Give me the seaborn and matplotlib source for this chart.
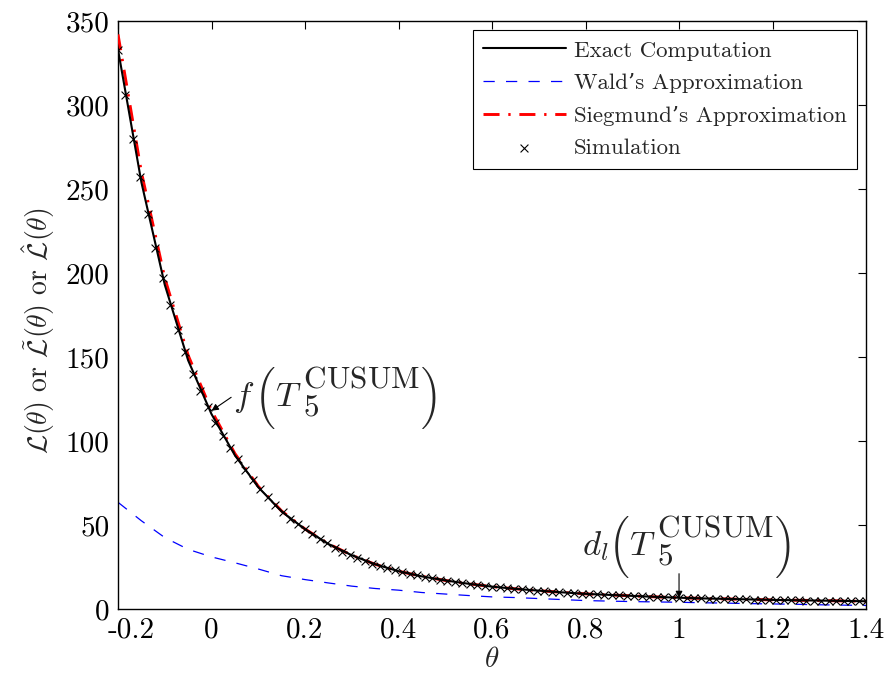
import numpy as np
import pandas as pd
import matplotlib
matplotlib.use("Agg")
import matplotlib.pyplot as plt
import matplotlib.transforms as mtransforms
import seaborn as sns

# ---------------- data ----------------
theta_curve = [-0.2, -0.15, -0.1, -0.05, 0.0, 0.05, 0.1, 0.15, 0.2, 0.25, 0.3,
               0.35, 0.4, 0.45, 0.5, 0.55, 0.6, 0.65, 0.7, 0.75, 0.8, 0.85,
               0.9, 0.95, 1.0, 1.05, 1.1, 1.15, 1.2, 1.25, 1.3, 1.35, 1.4]
exact = [333, 254, 193, 148, 116, 91.5, 72.5, 58, 47.5, 38.7, 32.0,
         26.6, 22.5, 19.4, 17.0, 15.0, 13.3, 12.0, 10.9, 9.9, 9.0, 8.4,
         7.8, 7.2, 6.7, 6.3, 6.0, 5.7, 5.4, 5.2, 5.0, 4.8, 4.6]
siegmund = [342, 260, 197, 151, 118, 92.5, 73, 58.3, 47.6, 38.8, 32.0,
            26.6, 22.5, 19.4, 17.0, 15.0, 13.3, 12.0, 10.9, 9.9, 9.0, 8.4,
            7.8, 7.2, 6.7, 6.3, 6.0, 5.7, 5.4, 5.2, 5.0, 4.8, 4.6]
wald = [63.5, 52.5, 42.5, 35.5, 31.0, 27.5, 23.8, 19.8, 17.5, 15.5, 13.6,
        12.2, 11.2, 9.8, 8.9, 8.0, 7.2, 6.8, 6.2, 5.6, 5.0, 4.7,
        4.4, 4.2, 4.0, 3.7, 3.5, 3.2, 3.0, 2.8, 2.5, 2.3, 2.1]

theta_sim = np.round(np.linspace(-0.2, 1.4, 101), 3)
simulation = [333, 306, 280, 257, 235, 215, 197, 181, 166, 153,
              140, 130, 120, 111, 103, 96, 89, 83, 77, 71.5,
              66.5, 62, 57.5, 53.5, 50.5, 47.5, 44.5, 41.5, 39, 36.5,
              34.2, 32.2, 30.4, 28.7, 27.0, 25.6, 24.3, 23.1, 22.0, 20.9,
              20.0, 19.1, 18.3, 17.5, 16.8, 16.1, 15.5, 14.9, 14.3, 13.8,
              13.3, 12.9, 12.5, 12.1, 11.7, 11.3, 11.0, 10.6, 10.3, 10.0,
              9.7, 9.4, 9.2, 8.9, 8.7, 8.5, 8.3, 8.1, 7.9, 7.7,
              7.5, 7.3, 7.2, 7.0, 6.9, 6.7, 6.6, 6.5, 6.3, 6.2,
              6.1, 6.0, 5.9, 5.8, 5.7, 5.6, 5.5, 5.4, 5.3, 5.3,
              5.2, 5.1, 5.0, 5.0, 4.9, 4.8, 4.8, 4.7, 4.6, 4.6, 4.5]

xtick_vals = [-0.2, 0, 0.2, 0.4, 0.6, 0.8, 1.0, 1.2, 1.4]
xtick_labels = ['-0.2', '0', '0.2', '0.4', '0.6', '0.8', '1', '1.2', '1.4']
ytick_vals = [0, 50, 100, 150, 200, 250, 300, 350]

labels = ["Exact Computation", "Wald\u2019s Approximation",
          "Siegmund\u2019s Approximation", "Simulation"]

# ---------------- style ----------------
sns.set_style("white")
plt.rcParams['font.family'] = ['cmr10', 'DejaVu Serif']
plt.rcParams['mathtext.fontset'] = 'cm'
plt.rcParams['axes.unicode_minus'] = False
plt.rcParams['xtick.direction'] = 'in'
plt.rcParams['ytick.direction'] = 'in'

fig = plt.figure(figsize=(8.92, 6.75), dpi=100)
ax = fig.add_axes([0.1323, 0.0978, 0.8386, 0.8711])

curves = pd.DataFrame({"theta": theta_curve, "exact": exact,
                       "wald": wald, "siegmund": siegmund})
sim = pd.DataFrame({"theta": theta_sim, "sim": simulation})

sns.lineplot(data=curves, x="theta", y="wald", ax=ax, color="#0000ff",
             lw=0.9, linestyle=(0, (9, 9)), label=labels[1], zorder=2)
sns.lineplot(data=curves, x="theta", y="siegmund", ax=ax, color="#ff0000",
             lw=2.1, linestyle=(0, (5.5, 3, 0.8, 3)), label=labels[2], zorder=3)
sns.lineplot(data=curves, x="theta", y="exact", ax=ax, color="black",
             lw=1.5, label=labels[0], zorder=4)
sns.scatterplot(data=sim, x="theta", y="sim", ax=ax, marker="x",
                color="black", s=32, linewidth=0.8, label=labels[3], zorder=5)

ax.set_xlim(-0.2, 1.4)
ax.set_ylim(0, 350)
ax.set_xticks(xtick_vals)
ax.set_xticklabels(xtick_labels)
ax.set_yticks(ytick_vals)
ax.tick_params(axis='both', which='both', direction='in', top=True,
               right=True, length=6, width=0.8, labelsize=21, pad=6,
               colors='black')
# shift the first x tick label to the right as in the original
first = ax.get_xticklabels()[0]
first.set_transform(first.get_transform() +
                    mtransforms.ScaledTranslation(13 / 100, 0, fig.dpi_scale_trans))
for sp in ax.spines.values():
    sp.set_visible(True)
    sp.set_color('black')
    sp.set_linewidth(1.0)

ax.set_xlabel(r'$\theta$', fontsize=21, labelpad=2)
ax.set_ylabel(r'$\mathcal{L}(\theta)$ or $\tilde{\mathcal{L}}(\theta)$ or $\hat{\mathcal{L}}(\theta)$',
              fontsize=20)
ax.yaxis.set_label_coords(-0.082, 0.473)

# legend in original order
h, l = ax.get_legend_handles_labels()
order = [l.index(t) for t in labels]
leg = ax.legend([h[i] for i in order], [l[i] for i in order],
                loc='upper right', fontsize=16.5, frameon=True, fancybox=False,
                edgecolor='black', framealpha=1, handlelength=3.6,
                handletextpad=0.35, borderaxespad=0.4, labelspacing=0.55,
                borderpad=0.45)
leg.get_frame().set_linewidth(0.8)

# ---------------- annotations ----------------
renderer = fig.canvas.get_renderer()


def put(anchor, txt, x, dy, size, fam=None, va='baseline'):
    kw = dict(xy=anchor, xycoords='data', xytext=(x, dy),
              textcoords='offset pixels', fontsize=size, ha='left', va=va,
              annotation_clip=False)
    if fam is not None:
        kw['fontfamily'] = fam
    a = ax.annotate(txt, **kw)
    return x + a.get_window_extent(renderer).width


def compose(anchor, first_txt):
    right = put(anchor, first_txt, 0, 0, 25)
    right = put(anchor, '\xb3', max(20, right), 8.5, 25, 'cmex10', 'center')
    right = put(anchor, r'$T$', max(37, right), 0, 25)
    right = put(anchor, r'${}_{5}^{\mathrm{CUSUM}}$', max(52, right), 0, 32)
    put(anchor, '\xb4', right + 1, 8.5, 25, 'cmex10', 'center')


ax.annotate('', xy=(0.0, 118), xytext=(0.042, 126),
            arrowprops=dict(arrowstyle='-|>', color='black', lw=0.8,
                            mutation_scale=10, shrinkA=0, shrinkB=0))
compose((0.047, 120.8), r'$f$')

ax.annotate('', xy=(1.0, 6.5), xytext=(1.0, 21),
            arrowprops=dict(arrowstyle='-|>', color='black', lw=0.8,
                            mutation_scale=10, shrinkA=0, shrinkB=0))
compose((0.792, 32.1), r'$d_l$')

fig.savefig("out.png", dpi=100)
